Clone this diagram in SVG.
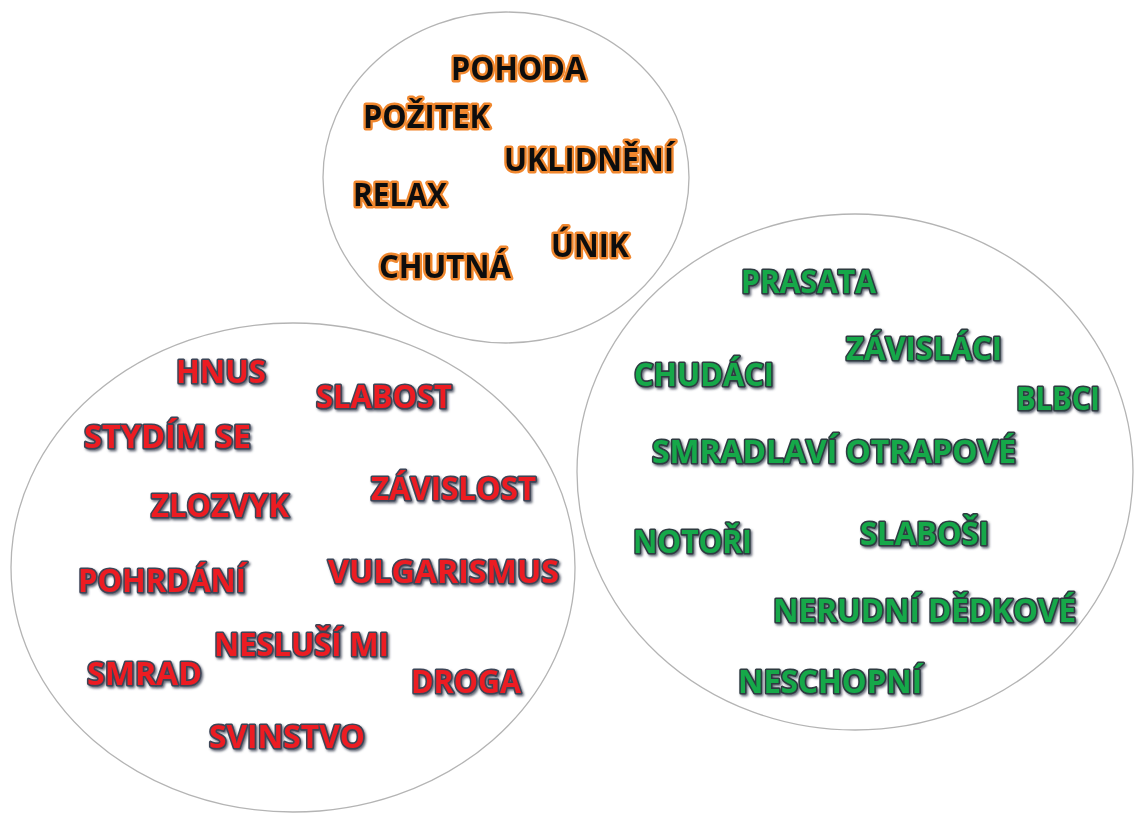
<svg xmlns="http://www.w3.org/2000/svg" width="1134" height="814" viewBox="0 0 1134 814">
<defs>
<style>
.circle{fill:#fff;stroke:#b4b4b4;stroke-width:1.3}
text{font-family:"Open Sans","Noto Sans","Liberation Sans",sans-serif;font-weight:700;font-size:33px}
.o{fill:#111;stroke:#f0872e;stroke-width:5;paint-order:stroke;stroke-linejoin:round;filter:url(#glow)}
.r{fill:#ec1c24;stroke:#3d4556;stroke-width:3.2;paint-order:stroke;stroke-linejoin:round;filter:url(#shadow)}
.g{fill:#12a84a;stroke:#2e3a40;stroke-width:3.2;paint-order:stroke;stroke-linejoin:round;filter:url(#shadow)}
</style>
<filter id="glow" x="-10%" y="-30%" width="120%" height="160%">
<feGaussianBlur in="SourceGraphic" stdDeviation="0.7"/>
</filter>
<filter id="shadow" x="-10%" y="-30%" width="120%" height="170%">
<feDropShadow dx="1.5" dy="1.8" stdDeviation="0.8" flood-color="#3d4556" flood-opacity="0.8"/>
</filter>
</defs>
<g id="circle-top">
<ellipse class="circle" cx="506" cy="177.5" rx="183" ry="165.5"/>
<text class="o" x="451" y="80" textLength="135" lengthAdjust="spacingAndGlyphs">POHODA</text>
<text class="o" x="363" y="128" textLength="127" lengthAdjust="spacingAndGlyphs">POŽITEK</text>
<text class="o" x="504" y="171" textLength="170" lengthAdjust="spacingAndGlyphs">UKLIDNĚNÍ</text>
<text class="o" x="353" y="206" textLength="94" lengthAdjust="spacingAndGlyphs">RELAX</text>
<text class="o" x="551" y="257" textLength="78" lengthAdjust="spacingAndGlyphs">ÚNIK</text>
<text class="o" x="379" y="278" textLength="132" lengthAdjust="spacingAndGlyphs">CHUTNÁ</text>
</g>
<g id="circle-left">
<ellipse class="circle" cx="293" cy="567.5" rx="282" ry="244.5"/>
<text class="r" x="176" y="383" textLength="90" lengthAdjust="spacingAndGlyphs">HNUS</text>
<text class="r" x="316" y="408" textLength="136" lengthAdjust="spacingAndGlyphs">SLABOST</text>
<text class="r" x="84" y="448" textLength="167" lengthAdjust="spacingAndGlyphs">STYDÍM SE</text>
<text class="r" x="151" y="517" textLength="138" lengthAdjust="spacingAndGlyphs">ZLOZVYK</text>
<text class="r" x="371" y="500" textLength="165" lengthAdjust="spacingAndGlyphs">ZÁVISLOST</text>
<text class="r" x="328" y="583" textLength="231" lengthAdjust="spacingAndGlyphs">VULGARISMUS</text>
<text class="r" x="78" y="592" textLength="168" lengthAdjust="spacingAndGlyphs">POHRDÁNÍ</text>
<text class="r" x="214" y="656" textLength="175" lengthAdjust="spacingAndGlyphs">NESLUŠÍ MI</text>
<text class="r" x="87" y="685" textLength="115" lengthAdjust="spacingAndGlyphs">SMRAD</text>
<text class="r" x="411" y="693" textLength="110" lengthAdjust="spacingAndGlyphs">DROGA</text>
<text class="r" x="209" y="748" textLength="156" lengthAdjust="spacingAndGlyphs">SVINSTVO</text>
</g>
<g id="circle-right">
<ellipse class="circle" cx="855" cy="472" rx="278" ry="258"/>
<text class="g" x="741" y="293" textLength="135" lengthAdjust="spacingAndGlyphs">PRASATA</text>
<text class="g" x="846" y="360" textLength="156" lengthAdjust="spacingAndGlyphs">ZÁVISLÁCI</text>
<text class="g" x="634" y="386" textLength="140" lengthAdjust="spacingAndGlyphs">CHUDÁCI</text>
<text class="g" x="1016" y="410" textLength="84" lengthAdjust="spacingAndGlyphs">BLBCI</text>
<text class="g" x="652" y="463" textLength="364" lengthAdjust="spacingAndGlyphs">SMRADLAVÍ OTRAPOVÉ</text>
<text class="g" x="860" y="545" textLength="129" lengthAdjust="spacingAndGlyphs">SLABOŠI</text>
<text class="g" x="633" y="553" textLength="119" lengthAdjust="spacingAndGlyphs">NOTOŘI</text>
<text class="g" x="773" y="622" textLength="303" lengthAdjust="spacingAndGlyphs">NERUDNÍ DĚDKOVÉ</text>
<text class="g" x="738" y="693" textLength="184" lengthAdjust="spacingAndGlyphs">NESCHOPNÍ</text>
</g>
</svg>
